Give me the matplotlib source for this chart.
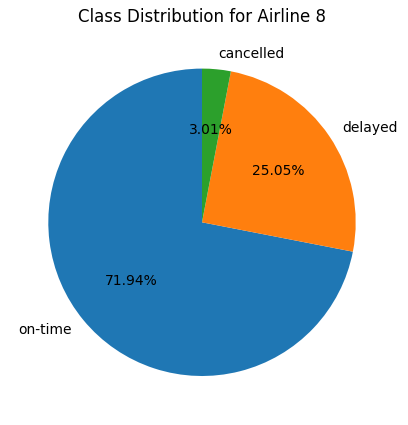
import matplotlib
matplotlib.use("Agg")
import matplotlib.pyplot as plt

labels = ["on-time", "delayed", "cancelled"]
shares = [71.94, 25.05, 3.01]

W, H = 408, 425
fig = plt.figure(figsize=(W / 100, H / 100), dpi=100)
cx, cy, r = 202.0, 222.3, 153.7
half = r * 1.25
ax = fig.add_axes([(cx - half) / W, (H - cy - half) / H, 2 * half / W, 2 * half / H])
ax.pie(shares, labels=labels, autopct="%1.2f%%", startangle=90)
ax.set_title("Class Distribution for Airline 8")
fig.savefig("out.png", dpi=100)
